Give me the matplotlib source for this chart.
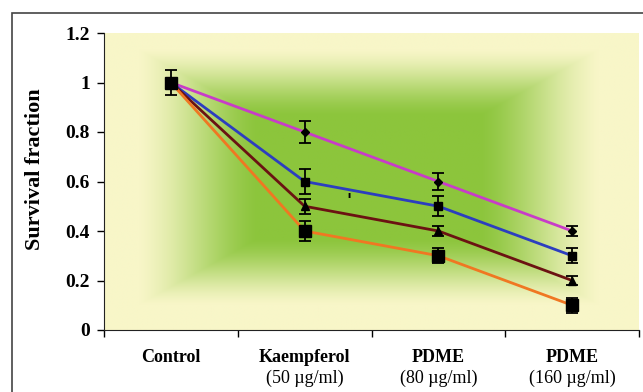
import numpy as np
import matplotlib.pyplot as plt
from matplotlib.colors import to_rgb

plt.rcParams['font.family'] = ['Liberation Serif', 'DejaVu Serif']

categories = ['Control', 'Kaempferol', 'PDME', 'PDME']
doses = ['', '(50 µg/ml)', '(80 µg/ml)', '(160 µg/ml)']

magenta_vals = [1.0, 0.8, 0.6, 0.4]
magenta_err = [0.0, 0.045, 0.035, 0.02]
blue_vals = [1.0, 0.6, 0.5, 0.3]
blue_err = [0.0, 0.05, 0.04, 0.03]
brown_vals = [1.0, 0.5, 0.4, 0.2]
brown_err = [0.0, 0.03, 0.02, 0.02]
orange_vals = [1.0, 0.4, 0.3, 0.1]
orange_err = [0.05, 0.04, 0.03, 0.03]

series = [
    (magenta_vals, magenta_err, '#c83cc8', 'D', 4),
    (blue_vals, blue_err, '#2c3ebf', 's', 6),
    (brown_vals, brown_err, '#6b1212', '^', 6),
    (orange_vals, orange_err, '#f07722', 's', 9),
]

fig = plt.figure(figsize=(6.43, 3.92), dpi=100)
ax = fig.add_axes([104/643, 62/392, 535/643, 297/392])

# rectangular "from center" gradient background
nx, ny = 540, 300
xx, yy = np.meshgrid(np.linspace(-1, 1, nx), np.linspace(-1, 1, ny))
t = np.maximum(np.abs(xx + 0.01), np.abs(yy + 0.03))
t = np.clip((t - 0.42) / (0.86 - 0.42), 0, 1)
t = 0.5 * t + 0.5 * t * t * (3 - 2 * t)
c_in = np.array(to_rgb('#8cc53c'))
c_out = np.array(to_rgb('#f8f6c8'))
img = c_in[None, None, :] * (1 - t[..., None]) + c_out[None, None, :] * t[..., None]
ax.imshow(img, extent=[-0.5, 3.5, 0, 1.2], aspect='auto', zorder=0, interpolation='bilinear')

x = np.arange(len(categories))
for vals, err, col, mk, ms in series:
    ax.plot(x, vals, color=col, lw=2, zorder=2)
    ax.errorbar(x, vals, yerr=err, fmt=mk, color='black', ms=ms, ecolor='black',
                elinewidth=1.3, capsize=4, capthick=1.3, zorder=3)

ax.text(1.33, 0.52, "'", fontsize=12, fontweight='bold', family='DejaVu Sans',
        ha='center', va='center', zorder=4)

ax.set_xlim(-0.5, 3.5)
ax.set_ylim(0, 1.2)
ax.set_yticks([0, 0.2, 0.4, 0.6, 0.8, 1.0, 1.2])
ax.set_yticklabels(['0', '0.2', '0.4', '0.6', '0.8', '1', '1.2'], fontsize=14, fontweight='bold')
ax.set_xticks([-0.5, 0.5, 1.5, 2.5, 3.5])
ax.set_xticklabels([])
ax.tick_params(axis='x', direction='out', length=5, width=1)
ax.tick_params(axis='y', direction='out', length=5, width=1, pad=5)
for i, (c, d) in enumerate(zip(categories, doses)):
    ax.text(i, -0.11, c, fontsize=13, fontweight='bold', ha='center', va='center',
            transform=ax.transData, clip_on=False)
    if d:
        ax.text(i, -0.195, d, fontsize=13, ha='center', va='center',
                transform=ax.transData, clip_on=False)

ax.spines['top'].set_visible(False)
ax.spines['right'].set_visible(False)
ax.spines['left'].set_color('#222222')
ax.spines['bottom'].set_color('#222222')
fig.text(35/643, (392-169)/392, 'Survival fraction', fontsize=16, fontweight='bold',
         rotation=90, ha='center', va='center')

fig.patches.append(plt.Rectangle((12/643, -0.1), 1.2, (392-13)/392 + 0.1, fill=False,
                                 edgecolor='#444444', lw=1.2, transform=fig.transFigure))

fig.savefig('out.png', dpi=100)
